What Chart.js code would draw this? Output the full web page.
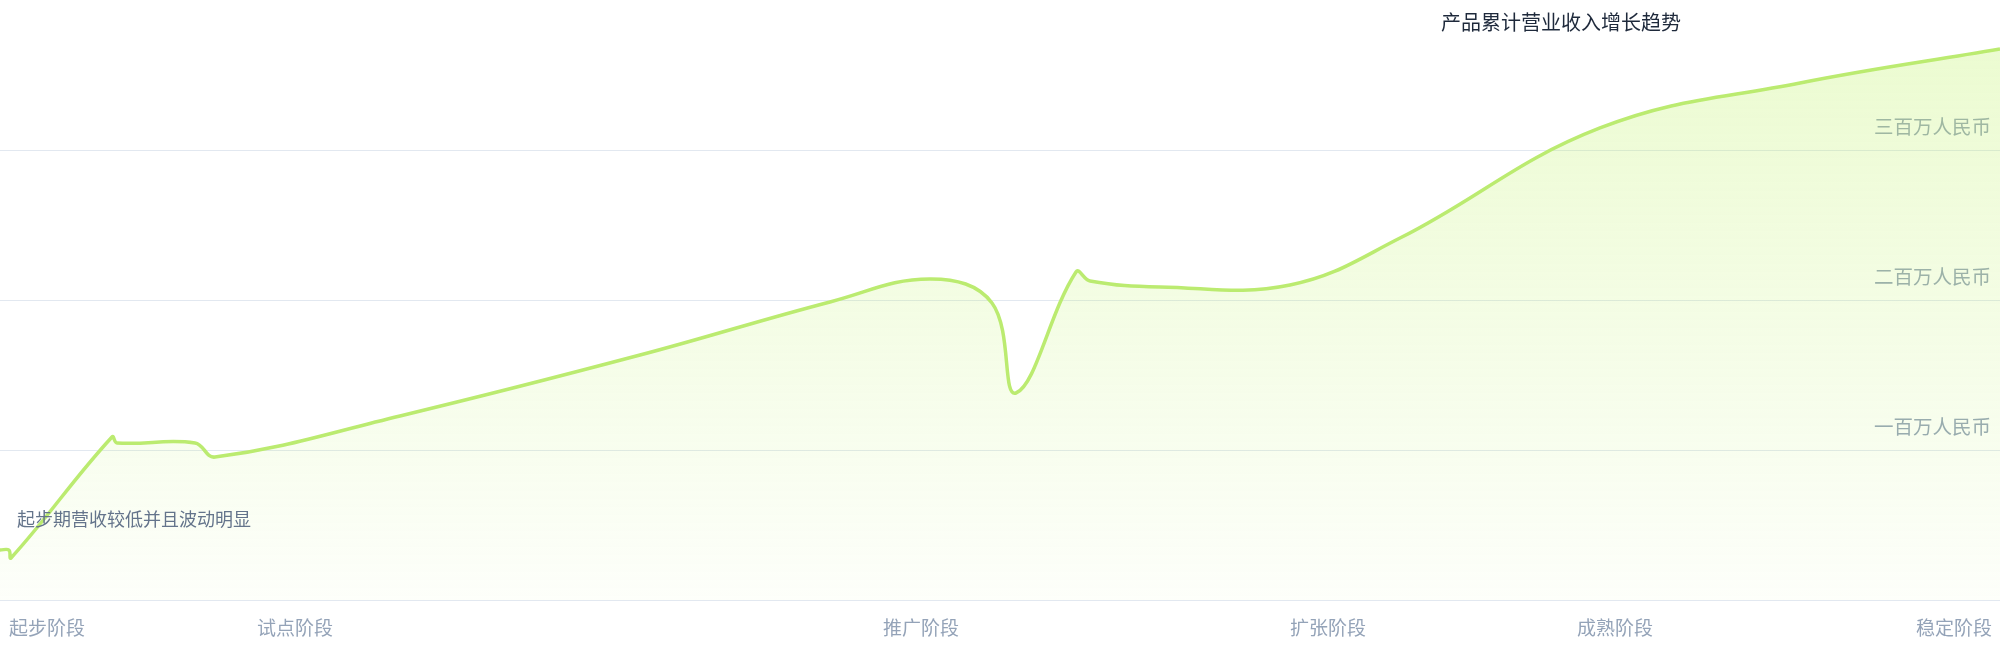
<!DOCTYPE html>
<html>
<head>
<meta charset="utf-8">
<script src="https://cdn.jsdelivr.net/npm/chart.js@4.4.1/dist/chart.umd.min.js"></script>
<style>
  html, body { margin: 0; padding: 0; background: #ffffff; }
  #wrap { position: relative; width: 2000px; height: 660px; }
</style>
</head>
<body>
<div id="wrap"><canvas id="revenueChart"></canvas></div>
<script>
// ── data (x = day index, y = 10k yuan) ──
const dayValues     = [0, 1.8, 2.2, 22.4, 23.4, 39, 43, 80, 128, 166, 186.2, 198.4, 203.2, 215.2, 218, 232, 258, 280, 320, 360, 400];
const revenueValues = [33.3, 33.3, 28, 108.7, 104.7, 104.7, 95.3, 122.7, 163.3, 198.7, 214, 198, 138, 218.7, 212.7, 208.7, 210, 241.3, 314.7, 344.7, 367.3];

const xTickValues = [9.4, 59, 184.2, 265.6, 323, 390.8];
const xTickLabels = ['起步阶段', '试点阶段', '推广阶段', '扩张阶段', '成熟阶段', '稳定阶段'];
const yTickLabels = { 100: '一百万人民币', 200: '二百万人民币', 300: '三百万人民币' };

const chartTitle = '产品累计营业收入增长趋势';
const startNote  = '起步期营收较低并且波动明显';

const FONT = '"Noto Sans CJK SC", "Noto Sans", sans-serif';

// title + note, drawn above the fill
const textPlugin = {
  id: 'textPlugin',
  afterDraw(chart) {
    const ctx = chart.ctx;
    ctx.save();
    ctx.textBaseline = 'middle';
    ctx.textAlign = 'left';
    ctx.font = '20px ' + FONT;
    ctx.fillStyle = '#1e293b';
    ctx.fillText(chartTitle, 1441, 22);
    ctx.font = '18px ' + FONT;
    ctx.fillStyle = '#64748b';
    ctx.fillText(startNote, 17, 519);
    ctx.restore();
  }
};

new Chart(document.getElementById('revenueChart'), {
  type: 'line',
  data: {
    datasets: [{
      data: dayValues.map((d, i) => ({ x: d, y: revenueValues[i] })),
      borderColor: '#bbeb70',
      borderWidth: 3.5,
      tension: 0.4,
      pointRadius: 0,
      fill: 'origin',
      backgroundColor: ctx => {
        const a = ctx.chart.chartArea;
        if (!a) return 'rgba(190,242,100,0.2)';
        const g = ctx.chart.ctx.createLinearGradient(0, a.top, 0, a.bottom);
        g.addColorStop(0, 'rgba(190,242,100,0.32)');
        g.addColorStop(1, 'rgba(190,242,100,0.03)');
        return g;
      }
    }]
  },
  options: {
    animation: false,
    responsive: true,
    maintainAspectRatio: false,
    devicePixelRatio: 1,
    layout: { padding: 0 },
    plugins: { legend: { display: false }, tooltip: { enabled: false } },
    scales: {
      x: {
        type: 'linear', min: 0, max: 400,
        grid: { display: false, drawTicks: false },
        border: { display: false },
        afterBuildTicks: axis => { axis.ticks = xTickValues.map(v => ({ value: v })); },
        afterFit: axis => { axis.height = 60; axis.paddingLeft = 0; axis.paddingRight = 0; },
        ticks: {
          autoSkip: false, maxRotation: 0, padding: 16,
          color: '#94a3b8', font: { family: FONT, size: 19 },
          callback: (v, i) => xTickLabels[i]
        }
      },
      y: {
        position: 'right', min: 0, max: 400,
        grid: { drawTicks: false, color: c => c.tick.value === 400 ? 'rgba(0,0,0,0)' : '#e2e8f0' },
        border: { display: false },
        afterFit: axis => { axis.width = 0; axis.paddingTop = 0; axis.paddingBottom = 0; },
        ticks: {
          stepSize: 100, mirror: true, padding: -9, labelOffset: -23,
          color: '#94a3b8', font: { family: FONT, size: 19.5 },
          callback: v => yTickLabels[v] || ''
        }
      }
    }
  },
  plugins: [textPlugin]
});
</script>
</body>
</html>
